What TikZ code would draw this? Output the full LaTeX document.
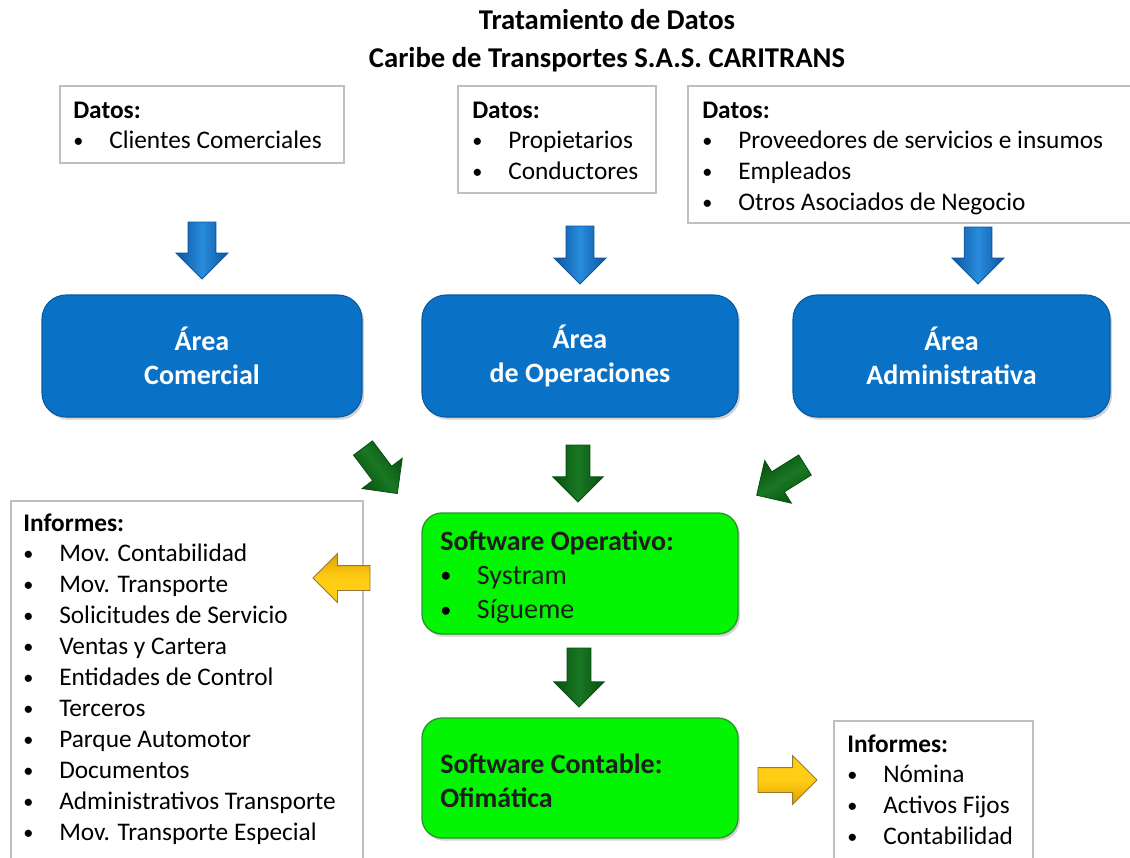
\documentclass[tikz,border=0pt]{standalone}
\usepackage{fontspec}
\setmainfont{Carlito}
\usetikzlibrary{shapes.arrows,shadows}
\definecolor{boxgray}{RGB}{191,191,191}
\definecolor{areablue}{RGB}{10,114,198}
\definecolor{areaedge}{RGB}{8,88,160}
\definecolor{arrblueD}{RGB}{14,86,160}
\definecolor{arrblueL}{RGB}{40,140,220}
\definecolor{swgreen}{RGB}{4,245,4}
\definecolor{swedge}{RGB}{40,150,40}
\definecolor{arrgreenD}{RGB}{8,80,16}
\definecolor{arrgreenL}{RGB}{25,120,35}
\definecolor{arryelD}{RGB}{222,160,0}
\definecolor{arryelL}{RGB}{255,206,20}
\definecolor{arryelE}{RGB}{150,120,50}
\definecolor{swtext}{RGB}{30,30,30}
\newcommand\smallfnt{\fontsize{19}{23.2}\selectfont}
\newcommand\bigfnt{\fontsize{21}{25.6}\selectfont}
\newcommand\titlefnt{\fontsize{21.5}{28.5}\selectfont}
\newcommand\smbullet{\raisebox{0.9pt}{\scalebox{0.8}{\textbullet}}}
\newcommand\itm[1]{\makebox[27pt][l]{\smbullet}#1}
\begin{document}
\begin{tikzpicture}[x=0.75pt,y=-0.75pt,
  infobox/.style={draw=boxgray,line width=1.5pt,fill=white,anchor=north west,inner sep=0pt},
  txt/.style={font=\smallfnt,inner sep=0pt,anchor=base west,text=black},
  areabox/.style={draw=areaedge,line width=0.8pt,fill=areablue,rounded corners=18pt,
     drop shadow={shadow xshift=1.5pt,shadow yshift=-2pt,opacity=0.35},
     text=white,font=\bigfnt\bfseries,align=center,inner sep=0pt},
  swbox/.style={draw=swedge,line width=1pt,fill=swgreen,rounded corners=15pt,
     drop shadow={shadow xshift=1.5pt,shadow yshift=-2pt,opacity=0.35},inner sep=0pt},
  swtxt/.style={font=\bigfnt,text=swtext,inner sep=0pt,anchor=base west},
  blockarr/.style={shape=single arrow,single arrow tip angle=90,single arrow head indent=0pt,
     inner xsep=0pt,minimum width=0pt,outer sep=0pt,anchor=tail},
  bluearr/.style={blockarr,inner ysep=10.1pt,single arrow head extend=9pt,minimum height=#1*0.75pt,
     draw=arrblueD,line width=0.6pt,shading=axis,top color=arrblueD,bottom color=arrblueD,middle color=arrblueL,shading angle=90},
  greenarr/.style n args={2}{blockarr,inner ysep=8.6pt,single arrow head extend=10pt,minimum height=#1*0.75pt,
     rotate=#2,draw=arrgreenD,line width=0.6pt,shading=axis,top color=arrgreenD,bottom color=arrgreenD,middle color=arrgreenL,shading angle=#2},
  yelarr/.style n args={2}{blockarr,inner ysep=9pt,single arrow head extend=9pt,minimum height=#1*0.75pt,
     rotate=#2,draw=arryelE,line width=0.6pt,shading=axis,top color=arryelL,bottom color=arryelD,middle color=arryelL,shading angle=#2},
]
\useasboundingbox (0,0) rectangle (1130,857);

% Title
\node[font=\titlefnt\bfseries,inner sep=0pt,anchor=base] (title) at (607,29)
  {\begin{tabular}[t]{@{}c@{}}Tratamiento de Datos\\ Caribe de Transportes S.A.S. CARITRANS\end{tabular}};

% Data boxes
\node[infobox,minimum width=284*0.75pt,minimum height=77*0.75pt] (d1) at (59,85) {};
\node[txt] (d1t) at (73,118) {\begin{tabular}[t]{@{}l@{}}\textbf{Datos:}\\ \itm{Clientes Comerciales}\end{tabular}};
\node[infobox,minimum width=198*0.75pt,minimum height=107*0.75pt] (d2) at (457,85) {};
\node[txt] (d2t) at (472,118) {\begin{tabular}[t]{@{}l@{}}\textbf{Datos:}\\ \itm{Propietarios}\\ \itm{Conductores}\end{tabular}};
\node[infobox,minimum width=460*0.75pt,minimum height=137*0.75pt] (d3) at (687,85) {};
\node[txt] (d3t) at (702,118) {\begin{tabular}[t]{@{}l@{}}\textbf{Datos:}\\ \itm{Proveedores de servicios e insumos}\\ \itm{Empleados}\\ \itm{Otros Asociados de Negocio}\end{tabular}};

% Blue arrows
\node[bluearr=57,rotate=-90] (ba1) at (202,222) {};
\node[bluearr=58,rotate=-90] (ba2) at (580,226) {};
\node[bluearr=57,rotate=-90] (ba3) at (978,227) {};

% Area boxes
\node[areabox,minimum width=320*0.75pt,minimum height=122*0.75pt] (a1) at (202,356) {Área\\Comercial};
\node[areabox,minimum width=316*0.75pt,minimum height=122*0.75pt] (a2) at (580,356) {Área\\de Operaciones};
\node[areabox,minimum width=317*0.75pt,minimum height=122*0.75pt] (a3) at (951.5,356) {Área\\Administrativa};

% Green arrows
\node[greenarr={57}{-53}] (ga1) at (363,448) {};
\node[greenarr={57}{-90}] (ga2) at (578,445) {};
\node[greenarr={57}{-148}] (ga3) at (805,465) {};

% Software Operativo
\node[swbox,minimum width=316*0.75pt,minimum height=121*0.75pt] (s1) at (580,573.5) {};
\node[swtxt] (s1t) at (440,550) {\begin{tabular}[t]{@{}l@{}}\textbf{Software Operativo:}\\ \makebox[27.5pt][l]{\textcolor{black}{\smbullet}}Systram\\ \makebox[27.5pt][l]{\textcolor{black}{\smbullet}}Sígueme\end{tabular}};

\node[greenarr={59}{-90}] (ga4) at (579,648) {};

% Software Contable
\node[swbox,minimum width=316*0.75pt,minimum height=120*0.75pt] (s2) at (580,778) {};
\node[swtxt] (s2t) at (440,773) {\begin{tabular}[t]{@{}l@{}}\textbf{Software Contable:}\\ \textbf{Ofimática}\end{tabular}};

% Informes boxes
\node[infobox,minimum width=352*0.75pt,minimum height=380*0.75pt] (i1) at (10,500) {};
\node[txt] (i1t) at (23,531) {\begin{tabular}[t]{@{}l@{}}\textbf{Informes:}\\ \itm{Mov. Contabilidad}\\ \itm{Mov. Transporte}\\ \itm{Solicitudes de Servicio}\\ \itm{Ventas y Cartera}\\ \itm{Entidades de Control}\\ \itm{Terceros}\\ \itm{Parque Automotor}\\ \itm{Documentos}\\ \itm{Administrativos Transporte}\\ \itm{Mov. Transporte Especial}\end{tabular}};
\node[infobox,minimum width=199*0.75pt,minimum height=160*0.75pt] (i2) at (833,720) {};
\node[txt] (i2t) at (847,752) {\begin{tabular}[t]{@{}l@{}}\textbf{Informes:}\\ \itm{Nómina}\\ \itm{Activos Fijos}\\ \itm{Contabilidad}\end{tabular}};

% Yellow arrows
\node[yelarr={57}{180}] (ya1) at (370,578) {};
\node[yelarr={59}{0}] (ya2) at (758,780) {};
\end{tikzpicture}
\end{document}
